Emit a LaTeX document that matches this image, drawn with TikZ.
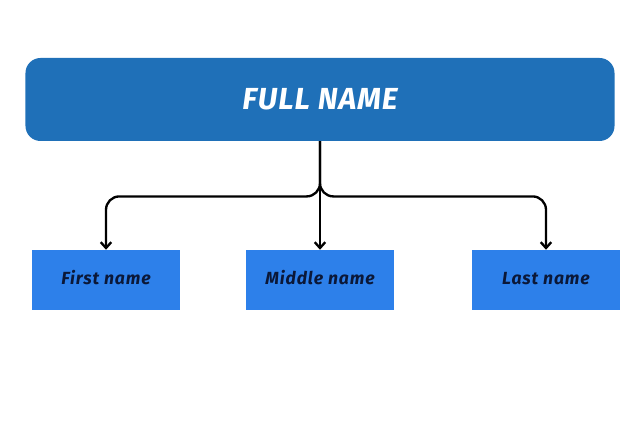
\documentclass[tikz,border=0pt]{standalone}
\usepackage{fontspec}
\setmainfont{Fira Sans}
\usetikzlibrary{positioning,arrows.meta}
\definecolor{azulfuerte}{HTML}{1F70B8}
\definecolor{azulclaro}{HTML}{2D80EA}
\definecolor{tinta}{HTML}{0B1838}
\tikzset{
  raiz/.style={draw=none, rounded corners=0.45cm, fill=azulfuerte, text=white, font=\fontsize{26}{30}\selectfont\bfseries\itshape\addfontfeature{LetterSpace=3}, minimum width=17.67cm, minimum height=2.49cm},
  parte/.style={draw=none, fill=azulclaro, text=tinta, font=\fontsize{15}{18}\selectfont\bfseries\itshape\addfontfeature{LetterSpace=5}, text height=1.6ex, text depth=0.2ex, minimum width=4.44cm, minimum height=1.8cm},
  flecha/.style={line width=2pt, rounded corners=0.4cm, -{Straight Barb[length=5pt,width=9pt]}},
}
\begin{document}
\begin{tikzpicture}[x=0.03cm, y=0.03cm]
  \useasboundingbox (0,0) rectangle (640,426);
  \node[raiz] (full) at (320,326.5) {FULL NAME};
  \node[parte] (first) at (106,146) {First name};
  \node[parte] (middle) at (320,146) {Middle name};
  \node[parte] (last) at (546,146) {Last name};
  % ramas
  \draw[flecha] (full.south) |- ([yshift=1.6cm]first.north) -- (first.north);
  \draw[flecha] (full.south) |- ([yshift=1.6cm]last.north) -- (last.north);
  \draw[flecha] (full.south) -- (middle.north);
\end{tikzpicture}
\end{document}
